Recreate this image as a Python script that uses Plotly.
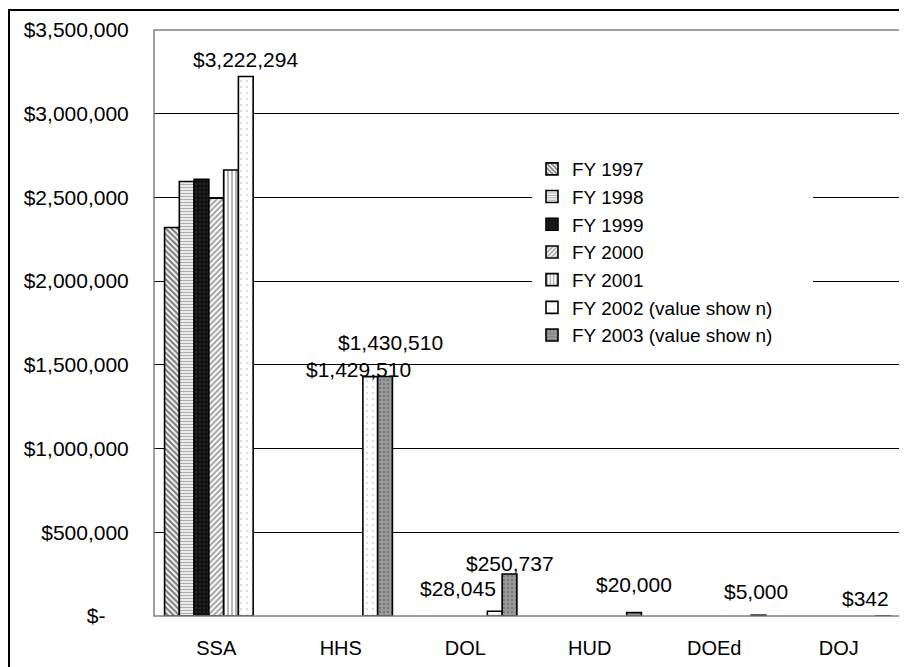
import plotly.graph_objects as go

# ---------------- data ----------------
categories = ["SSA", "HHS", "DOL", "HUD", "DOEd", "DOJ"]
series_names = ["FY 1997", "FY 1998", "FY 1999", "FY 2000", "FY 2001",
                "FY 2002 (value show n)", "FY 2003 (value show n)"]
fy1997 = [2320000, None, None, None, None, None]
fy1998 = [2595000, None, None, None, None, None]
fy1999 = [2608000, None, None, None, None, None]
fy2000 = [2495000, None, None, None, None, None]
fy2001 = [2664000, None, None, None, None, None]
fy2002 = [3222294, 1429510, 28045, None, None, None]
fy2003 = [None, 1430510, 250737, 20000, 5000, 342]
series_values = [fy1997, fy1998, fy1999, fy2000, fy2001, fy2002, fy2003]
labeled_series = [5, 6]  # series whose values are shown

y_tickvals = [0, 500000, 1000000, 1500000, 2000000, 2500000, 3000000, 3500000]
y_ticktext = ["$-\u00a0\u00a0\u00a0\u00a0", "$500,000", "$1,000,000", "$1,500,000",
              "$2,000,000", "$2,500,000", "$3,000,000", "$3,500,000"]

# ---------------- styles ----------------
OFF = 8  # page body margin
W, H = 907 - OFF, 667 - OFF
ML, MT = 154 - OFF, 30 - OFF
MR = W - (901 - OFF)
MB = H - (616 - OFF)
plot_w = W - ML - MR
plot_h = H - MT - MB
BARGAP = 0.17
FONT = "Liberation Sans, Arial, sans-serif"


def px_x(ax):
    return (ax - OFF - ML) / plot_w


def px_y(ay):
    return (plot_h + MT - (ay - OFF)) / plot_h


patterns = [
    dict(shape="\\", fgcolor="#000000", bgcolor="#ffffff", size=4, solidity=0.55),
    dict(shape="-", fgcolor="#5a5a5a", bgcolor="#ffffff", size=3, solidity=0.5),
    dict(shape=".", fgcolor="#3a3a3a", bgcolor="#111111", size=4, solidity=0.3),
    dict(shape="/", fgcolor="#444444", bgcolor="#ffffff", size=4, solidity=0.5),
    dict(shape="|", fgcolor="#707070", bgcolor="#ffffff", size=4, solidity=0.5),
    dict(shape=".", fgcolor="#c0c0c0", bgcolor="#ffffff", size=6, solidity=0.15),
    dict(shape=".", fgcolor="#555555", bgcolor="#9a9a9a", size=4, solidity=0.3),
]

# label nudges (px): (dx, dy-up from bar top)
label_nudge = {
    (5, "SSA"): (0, 17), (5, "HHS"): (-12, 7), (5, "DOL"): (-37, 23),
    (6, "HHS"): (5, 34), (6, "DOL"): (0, 11), (6, "HUD"): (0, 28),
    (6, "DOEd"): (-3, 24), (6, "DOJ"): (-18, 17),
}

fig = go.Figure()
for i, (name, vals) in enumerate(zip(series_names, series_values)):
    p = patterns[i]
    fig.add_trace(go.Bar(
        name=name, x=categories, y=vals,
        marker=dict(color=p["bgcolor"], line=dict(color="#000000", width=1.6),
                    pattern=p),
    ))

cat_w = plot_w / len(categories)
slot = cat_w * (1 - BARGAP) / len(series_names)
annotations = []
for i in labeled_series:
    for c, v in zip(categories, series_values[i]):
        if v is None:
            continue
        dx, dy = label_nudge.get((i, c), (0, 10))
        annotations.append(dict(
            x=c, y=v, xref="x", yref="y", text=f"${v:,.0f}", showarrow=False,
            xanchor="center", yanchor="middle",
            xshift=(i - (len(series_names) - 1) / 2) * slot + dx, yshift=dy,
            font=dict(family=FONT, size=21, color="#000000"),
        ))

shapes = [
    # white legend box backing (hides gridlines behind the legend)
    dict(type="rect", xref="paper", yref="paper",
         x0=px_x(533), x1=px_x(813), y0=px_y(344), y1=px_y(155),
         fillcolor="#ffffff", line=dict(width=0), layer="above"),
    # plot-area border
    dict(type="rect", xref="paper", yref="paper", x0=0, x1=1, y0=0, y1=1,
         line=dict(color="#808080", width=1.5), layer="above"),
    # outer chart frame (extends beyond the window on right/bottom)
    dict(type="rect", xref="paper", yref="paper",
         x0=px_x(9), x1=(W + 20 - ML) / plot_w,
         y0=-(MB + 20) / plot_h, y1=px_y(10),
         line=dict(color="#000000", width=2)),
]

fig.update_layout(
    width=W, height=H,
    margin=dict(l=ML, r=MR, t=MT, b=MB, autoexpand=False),
    paper_bgcolor="#ffffff", plot_bgcolor="#ffffff",
    barmode="group", bargap=BARGAP, bargroupgap=0,
    font=dict(family=FONT, size=20, color="#000000"),
    showlegend=True,
    legend=dict(x=px_x(532), xanchor="left",
                y=px_y(150), yanchor="top",
                bgcolor="#ffffff", borderwidth=0,
                font=dict(family=FONT, size=19, color="#000000"),
                itemwidth=30, tracegroupgap=0),
    annotations=annotations,
    shapes=shapes,
)
fig.update_xaxes(showgrid=False, showline=False, zeroline=False,
                 ticks="outside", ticklen=14, tickcolor="rgba(0,0,0,0)",
                 tickfont=dict(family=FONT, size=20, color="#000000"))
fig.update_yaxes(range=[0, 3500000], tickvals=y_tickvals, ticktext=y_ticktext,
                 showgrid=True, gridcolor="#000000", gridwidth=1,
                 zeroline=False, showline=False,
                 ticks="outside", ticklen=20, tickcolor="rgba(0,0,0,0)",
                 tickfont=dict(family=FONT, size=21, color="#000000"))

fig.write_html("out.html")
